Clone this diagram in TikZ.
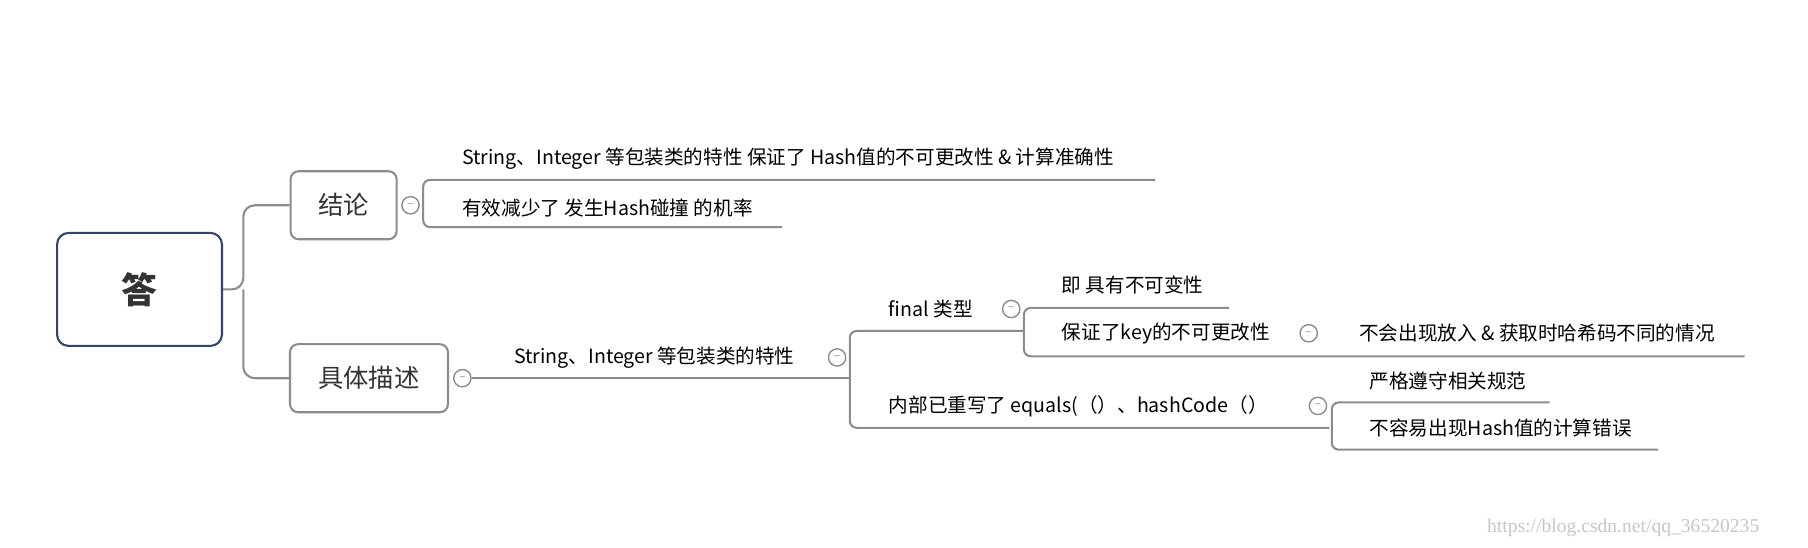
\documentclass[tikz,border=0pt]{standalone}
\usepackage{fontspec}
\setmainfont{Noto Sans CJK SC}
\newfontfamily\markfont{Liberation Serif}
\definecolor{linegray}{HTML}{8C8C8C}
\definecolor{rootblue}{HTML}{34436B}
\definecolor{textgray}{HTML}{333333}

\begin{document}
\begin{tikzpicture}[x=1pt,y=-1pt,
    line width=1.8pt, draw=linegray,
    topic/.style={draw=linegray, rounded corners=7pt, line width=1.8pt, text=textgray, font=\fontsize{22}{24}\selectfont},
    leaf/.style={anchor=west, text=black, inner sep=0pt, font=\fontsize{17}{19}\selectfont},
    fold/.style={draw=linegray, circle, line width=1.2pt, minimum size=15pt, inner sep=0pt, fill=white, font=\fontsize{10}{10}\selectfont, text=linegray}]
  \fill[white] (0,0) rectangle (1568,475);
  \useasboundingbox (0,0) rectangle (1568,475);
  % main topics
  \node[draw=rootblue, rounded corners=10pt, line width=1.8pt, minimum width=143pt, minimum height=98pt,
        font=\fontsize{31}{33}\selectfont\bfseries, text=textgray] (root) at (121,251) {答};
  \node[topic, minimum width=92pt, minimum height=59pt] (concl) at (298,178) {结论};
  \node[topic, minimum width=137pt, minimum height=59pt] (desc) at (320,328) {具体描述};
  \draw[rounded corners=10pt] (root.east) -- (211,251) |- (concl.west);
  \draw[rounded corners=10pt] (211,251) |- (desc.west);
  % 结论
  \node[fold] (f1) at (356,178) {--};
  \draw[rounded corners=6pt] (1002,156) -- (367,156) -- (367,197) -- (678,197);
  \node[leaf] (c1) at (400,138) {String、Integer 等包装类的特性 保证了 Hash值的不可更改性 \& 计算准确性};
  \node[leaf] (c2) at (400,180) {有效减少了 发生Hash碰撞 的机率};
  % 具体描述
  \node[fold] (f2) at (401,328) {--};
  \draw (f2.east) -- (737,328);
  \node[leaf] (d1) at (445,310) {String、Integer 等包装类的特性};
  \node[fold] (f3) at (726,310) {--};
  \draw[rounded corners=6pt] (888,287) -- (737,287) -- (737,371) -- (1153,371);
  \node[leaf] (e1) at (770,268) {final 类型};
  \node[fold] (f4) at (877,268) {--};
  \node[leaf] (e2) at (770,352) {内部已重写了 equals(（）、hashCode（）};
  \node[fold] (f5) at (1143,352) {--};
  % final 类型
  \draw[rounded corners=6pt] (1066,267) -- (888,267) -- (888,309) -- (1513,309);
  \node[leaf] (g1) at (920,247) {即 具有不可变性};
  \node[leaf] (g2) at (920,289) {保证了key的不可更改性};
  \node[fold] (f6) at (1135,289) {--};
  \node[leaf] (g3) at (1178,289) {不会出现放入 \& 获取时哈希码不同的情况};
  % equals / hashCode
  \draw[rounded corners=6pt] (1344,349) -- (1155,349) -- (1155,390) -- (1438,390);
  \node[leaf] (h1) at (1187,330) {严格遵守相关规范};
  \node[leaf] (h2) at (1187,371) {不容易出现Hash值的计算错误};
  \node[anchor=east, text=black!22, font=\fontsize{17}{18}\selectfont\markfont] (mark) at (1530,458) {https://blog.csdn.net/qq\_36520235};
\end{tikzpicture}
\end{document}
